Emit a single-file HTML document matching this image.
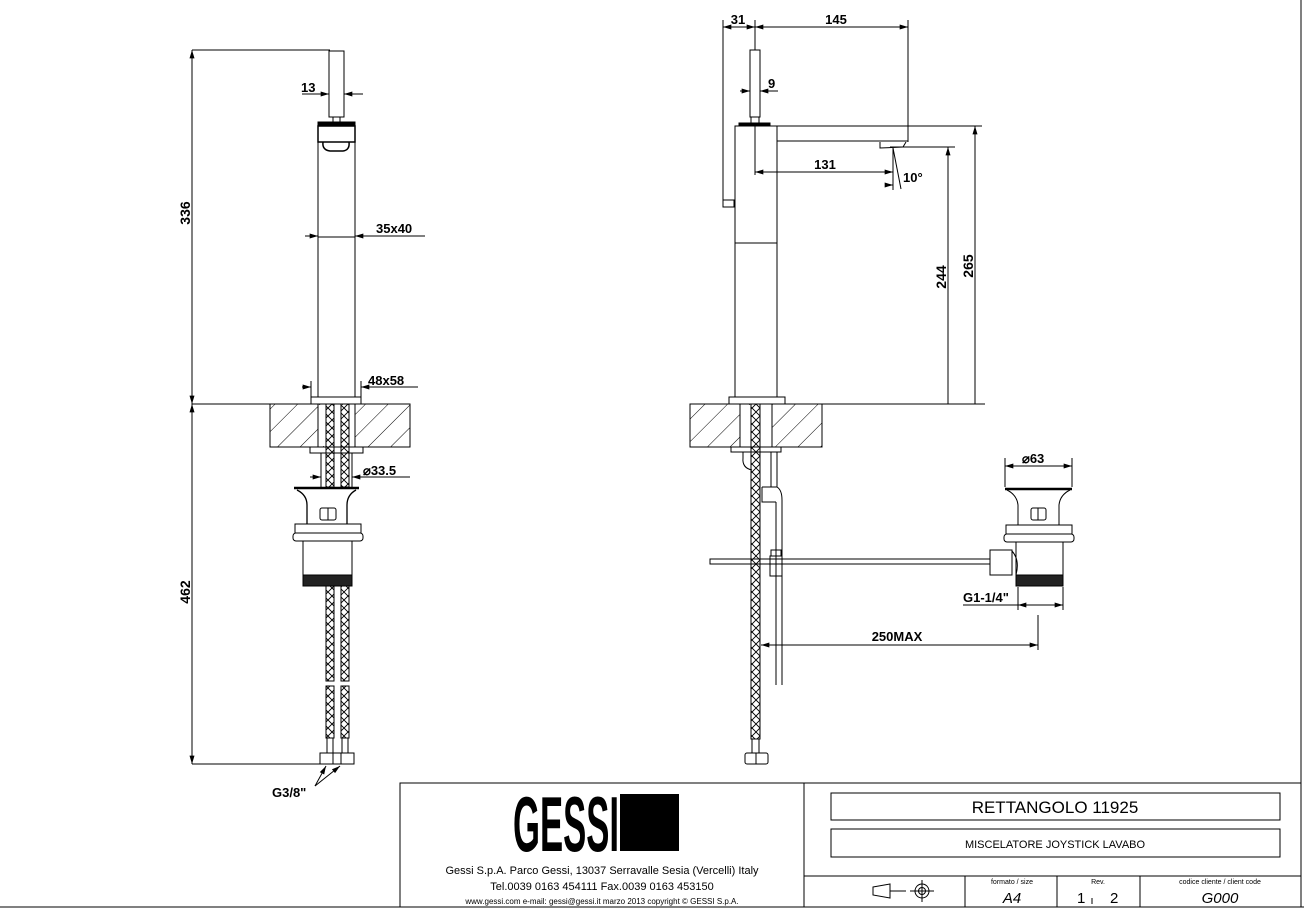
<!DOCTYPE html>
<html><head><meta charset="utf-8"><style>
html,body{margin:0;padding:0;background:#fff;}
svg{display:block;}
text{font-family:"Liberation Sans",sans-serif;fill:#000;}
</style></head><body>
<svg width="1304" height="909" viewBox="0 0 1304 909" xmlns="http://www.w3.org/2000/svg">
<defs>
<pattern id="hatch" width="16" height="16" patternUnits="userSpaceOnUse" patternTransform="rotate(45)">
<line x1="0" y1="0" x2="0" y2="16" stroke="#000" stroke-width="1"/>
</pattern>
<pattern id="braid" width="8" height="16" patternUnits="userSpaceOnUse">
<path d="M0,0 L8,8 L0,16 M8,0 L0,8 L8,16" stroke="#000" stroke-width="0.9" fill="none"/>
</pattern>
<marker id="a" viewBox="0 0 10 6" refX="10" refY="3" markerWidth="9" markerHeight="5" orient="auto-start-reverse" markerUnits="userSpaceOnUse">
<path d="M0,0 L10,3 L0,6 z" fill="#000"/>
</marker>
</defs>
<g stroke="#000" stroke-width="1" fill="none">
<line x1="1301" y1="0" x2="1301" y2="907"/>
<line x1="0" y1="907" x2="1304" y2="907"/>

<!-- LEFT VIEW -->
<line x1="192" y1="50" x2="330" y2="50"/>
<line x1="192" y1="50" x2="192" y2="404" marker-start="url(#a)" marker-end="url(#a)"/>
<line x1="192" y1="404" x2="270" y2="404"/>
<line x1="192" y1="404" x2="192" y2="764" marker-start="url(#a)" marker-end="url(#a)"/>
<line x1="192" y1="764" x2="320" y2="764"/>
<rect x="329" y="51" width="15" height="66"/>
<rect x="333" y="117" width="7" height="6"/>
<rect x="318" y="122" width="37" height="4" fill="#000"/>
<rect x="318" y="126" width="37" height="271"/>
<rect x="318" y="126" width="37" height="16" stroke-width="1.5"/>
<path d="M323,142 Q322,150 330,151 L343,151 Q350,150 349,142" stroke-width="1.5"/>
<line x1="318" y1="237" x2="355" y2="237"/>
<line x1="302" y1="94" x2="329" y2="94" marker-end="url(#a)"/>
<line x1="363" y1="94" x2="344" y2="94" marker-end="url(#a)"/>
<line x1="305" y1="236" x2="318" y2="236" marker-end="url(#a)"/>
<line x1="425" y1="236" x2="355" y2="236" marker-end="url(#a)"/>
<rect x="311" y="397" width="50" height="7"/>
<line x1="302" y1="387" x2="311" y2="387" marker-end="url(#a)"/>
<line x1="418" y1="387" x2="361" y2="387" marker-end="url(#a)"/>
<line x1="311" y1="381" x2="311" y2="397"/><line x1="361" y1="381" x2="361" y2="397"/>
<rect x="270" y="404" width="140" height="43" fill="url(#hatch)"/>
<rect x="318" y="405" width="37" height="41" fill="#fff" stroke="none"/>
<line x1="318" y1="404" x2="318" y2="447"/><line x1="355" y1="404" x2="355" y2="447"/>
<rect x="310" y="447" width="53" height="6"/>
<line x1="321" y1="453" x2="321" y2="487"/><line x1="352" y1="453" x2="352" y2="487"/>
<line x1="310" y1="477" x2="321" y2="477" marker-end="url(#a)"/>
<line x1="410" y1="477" x2="352" y2="477" marker-end="url(#a)"/>
<rect x="326" y="404" width="8" height="83" fill="url(#braid)"/>
<rect x="341" y="404" width="8" height="83" fill="url(#braid)"/>
<path d="M297,490 Q307,495 307,505 L307,524 M356,490 Q347,495 347,505 L347,524" stroke-width="1.3"/>
<line x1="294" y1="488" x2="359" y2="488" stroke-width="2.5"/>
<rect x="320" y="508" width="16" height="12" rx="2"/><line x1="328" y1="508" x2="328" y2="520"/>
<rect x="295" y="524" width="66" height="9"/>
<rect x="293" y="533" width="70" height="8" rx="3"/>
<rect x="303" y="541" width="49" height="34"/>
<rect x="303" y="575" width="49" height="11" fill="#222"/>
<rect x="326" y="586" width="8" height="95" fill="url(#braid)"/>
<rect x="341" y="586" width="8" height="95" fill="url(#braid)"/>
<rect x="326" y="686" width="8" height="52" fill="url(#braid)"/>
<rect x="341" y="686" width="8" height="52" fill="url(#braid)"/>
<rect x="327" y="738" width="6" height="15"/><rect x="342" y="738" width="6" height="15"/>
<rect x="320" y="753" width="13" height="11"/><rect x="333" y="753" width="8" height="11"/><rect x="341" y="753" width="13" height="11"/>
<line x1="315" y1="786" x2="326" y2="766" marker-end="url(#a)"/>
<line x1="315" y1="786" x2="340" y2="766" marker-end="url(#a)"/>

<!-- RIGHT VIEW -->
<line x1="723" y1="20" x2="723" y2="200"/>
<rect x="723" y="200" width="11" height="7"/>
<line x1="755" y1="20" x2="755" y2="50"/>
<line x1="908" y1="20" x2="908" y2="142"/>
<line x1="723" y1="27" x2="755" y2="27" marker-start="url(#a)" marker-end="url(#a)"/>
<line x1="755" y1="27" x2="908" y2="27" marker-start="url(#a)" marker-end="url(#a)"/>
<rect x="750" y="50" width="10" height="67"/>
<rect x="751" y="117" width="8" height="6"/>
<rect x="739" y="123" width="31" height="3" fill="#000"/>
<line x1="740" y1="91" x2="750" y2="91" marker-end="url(#a)"/>
<line x1="778" y1="91" x2="760" y2="91" marker-end="url(#a)"/>
<rect x="735" y="126" width="42" height="271"/>
<line x1="777" y1="126" x2="982" y2="126"/>
<path d="M777,141 L908,141 L908,126"/>
<path d="M880,142 L880,148 L903,147 L906,142"/>
<line x1="890" y1="147" x2="955" y2="147"/>
<line x1="735" y1="243" x2="777" y2="243"/>
<line x1="755" y1="126" x2="755" y2="175"/>
<line x1="755" y1="172" x2="893" y2="172" marker-start="url(#a)" marker-end="url(#a)"/>
<line x1="893" y1="148" x2="893" y2="190"/>
<line x1="893" y1="148" x2="901" y2="189"/>
<line x1="885" y1="185" x2="893" y2="185" marker-end="url(#a)"/>
<line x1="948" y1="147" x2="948" y2="404" marker-start="url(#a)"/>
<line x1="975" y1="126" x2="975" y2="404" marker-start="url(#a)"/>
<line x1="785" y1="404" x2="985" y2="404"/>
<rect x="729" y="397" width="56" height="7"/>
<rect x="690" y="404" width="132" height="43" fill="url(#hatch)"/>
<rect x="740" y="405" width="32" height="41" fill="#fff" stroke="none"/>
<line x1="740" y1="404" x2="740" y2="447"/><line x1="772" y1="404" x2="772" y2="447"/>
<rect x="731" y="447" width="50" height="5"/>
<path d="M743,452 L743,458 Q742,468 752,470"/>
<line x1="771" y1="452" x2="771" y2="487"/><line x1="777" y1="452" x2="777" y2="487"/>
<path d="M762,487 L777,487 Q782,490 782,500 L782,685 M776,502 L776,685 M762,487 L762,502 L776,502" />
<rect x="751" y="404" width="9" height="335" fill="url(#braid)"/>
<rect x="752" y="739" width="7" height="14"/>
<rect x="745" y="753" width="23" height="11" rx="2"/>
<line x1="756" y1="753" x2="756" y2="764"/>
<rect x="710" y="559" width="280" height="5"/>
<rect x="771" y="550" width="10" height="6"/>
<rect x="770" y="556" width="12" height="20"/>
<line x1="1005" y1="466" x2="1072" y2="466" marker-start="url(#a)" marker-end="url(#a)"/>
<line x1="1005" y1="458" x2="1005" y2="487"/><line x1="1072" y1="458" x2="1072" y2="487"/>
<line x1="1005" y1="489" x2="1072" y2="489" stroke-width="2.5"/>
<path d="M1007,490 Q1017,495 1018,505 L1018,525 M1070,490 Q1060,495 1059,505 L1059,525"/>
<rect x="1031" y="508" width="15" height="12" rx="2"/><line x1="1038" y1="508" x2="1038" y2="520"/>
<rect x="1006" y="525" width="66" height="9"/>
<rect x="1004" y="534" width="70" height="8" rx="3"/>
<rect x="1016" y="542" width="47" height="33"/>
<rect x="1016" y="575" width="47" height="11" fill="#222"/>
<rect x="990" y="550" width="22" height="25"/>
<path d="M1012,551 Q1020,560 1016,575"/>
<line x1="1018" y1="587" x2="1018" y2="610"/><line x1="1063" y1="587" x2="1063" y2="610"/>
<line x1="963" y1="605" x2="1018" y2="605"/>
<line x1="1018" y1="605" x2="1063" y2="605" marker-start="url(#a)" marker-end="url(#a)"/>
<line x1="1038" y1="615" x2="1038" y2="650"/>
<line x1="761" y1="645" x2="1038" y2="645" marker-start="url(#a)" marker-end="url(#a)"/>

<!-- TITLE BLOCK -->
<rect x="400" y="783" width="901" height="124"/>
<line x1="804" y1="783" x2="804" y2="907"/>
<rect x="831" y="793" width="449" height="27"/>
<rect x="831" y="829" width="449" height="28"/>
<line x1="804" y1="876" x2="1301" y2="876"/>
<line x1="965" y1="876" x2="965" y2="907"/>
<line x1="1057" y1="876" x2="1057" y2="907"/>
<line x1="1140" y1="876" x2="1140" y2="907"/>
<path d="M873,887 L890,884 L890,898 L873,895 Z"/>
<line x1="890" y1="891" x2="906" y2="891"/>
<circle cx="922" cy="891" r="7"/><circle cx="922" cy="891" r="3.5"/>
<line x1="910" y1="891" x2="934" y2="891"/><line x1="922" y1="880" x2="922" y2="902"/>
<line x1="1092" y1="898" x2="1092" y2="904"/>
</g>
<rect x="620" y="794" width="59" height="57" fill="#000"/>
<text x="566" y="851" font-size="78" font-weight="bold" text-anchor="middle" textLength="106" lengthAdjust="spacingAndGlyphs" style="font-family:'Liberation Sans Narrow','Liberation Sans',sans-serif">GESSI</text>

<g font-weight="bold">
<text x="301" y="92" font-size="13">13</text>
<text x="376" y="233" font-size="13">35x40</text>
<text x="368" y="385" font-size="13">48x58</text>
<text x="363" y="475" font-size="13">⌀33.5</text>
<text x="272" y="797" font-size="13">G3/8"</text>
<text x="190" y="213" font-size="14" transform="rotate(-90 190 213)" text-anchor="middle">336</text>
<text x="190" y="592" font-size="14" transform="rotate(-90 190 592)" text-anchor="middle">462</text>
<text x="738" y="24" font-size="13" text-anchor="middle">31</text>
<text x="836" y="24" font-size="13" text-anchor="middle">145</text>
<text x="768" y="88" font-size="13">9</text>
<text x="825" y="169" font-size="13" text-anchor="middle">131</text>
<text x="903" y="182" font-size="13">10°</text>
<text x="946" y="277" font-size="14" transform="rotate(-90 946 277)" text-anchor="middle">244</text>
<text x="973" y="266" font-size="14" transform="rotate(-90 973 266)" text-anchor="middle">265</text>
<text x="1022" y="463" font-size="13">⌀63</text>
<text x="963" y="602" font-size="13">G1-1/4"</text>
<text x="897" y="641" font-size="13" text-anchor="middle">250MAX</text>
</g>
<text x="1055" y="813" font-size="17" text-anchor="middle">RETTANGOLO  11925</text>
<text x="1055" y="848" font-size="11" text-anchor="middle">MISCELATORE JOYSTICK LAVABO</text>
<text x="602" y="874" font-size="11" text-anchor="middle">Gessi S.p.A. Parco Gessi, 13037 Serravalle Sesia (Vercelli) Italy</text>
<text x="602" y="890" font-size="11" text-anchor="middle">Tel.0039  0163  454111  Fax.0039  0163  453150</text>
<text x="602" y="904" font-size="8" text-anchor="middle">www.gessi.com  e-mail: gessi@gessi.it    marzo  2013    copyright © GESSI  S.p.A.</text>
<text x="1012" y="884" font-size="7" text-anchor="middle">formato / size</text>
<text x="1012" y="903" font-size="15" font-style="italic" text-anchor="middle">A4</text>
<text x="1098" y="884" font-size="7" text-anchor="middle">Rev.</text>
<text x="1077" y="903" font-size="15">1</text>
<text x="1110" y="903" font-size="15">2</text>
<text x="1220" y="884" font-size="7" text-anchor="middle">codice cliente / client code</text>
<text x="1220" y="903" font-size="15" font-style="italic" text-anchor="middle">G000</text>
</svg>
</body></html>
